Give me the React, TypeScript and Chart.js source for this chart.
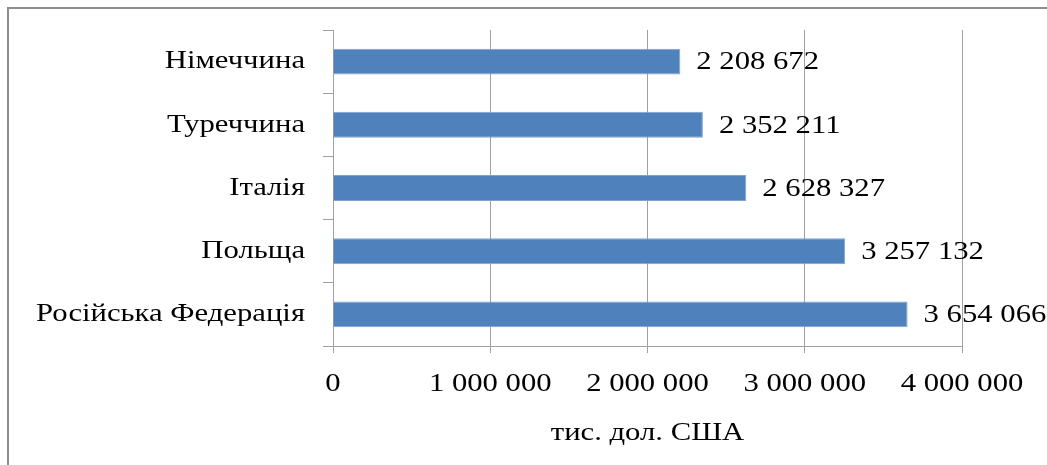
import React, { useEffect, useRef } from "react";
import { Chart, registerables } from "chart.js";

Chart.register(...registerables);

const categories = ["Німеччина", "Туреччина", "Італія", "Польща", "Російська Федерація"];
const values = [2208672, 2352211, 2628327, 3257132, 3654066];
const xTicks = [0, 1000000, 2000000, 3000000, 4000000];
const axisTitle = "тис. дол. США";

const FONT = "'Liberation Serif', 'Times New Roman', serif";
const TEXT_STRETCH = 1.18;
const fmt = (v: number) => String(v).replace(/\B(?=(\d{3})+(?!\d))/g, " ");

const dataLabels = {
  id: "dataLabels",
  afterDatasetsDraw(chart: any) {
    const ctx = chart.ctx;
    const meta = chart.getDatasetMeta(0);
    ctx.save();
    ctx.font = `26px ${FONT}`;
    ctx.fillStyle = "#000";
    ctx.textAlign = "left";
    ctx.textBaseline = "middle";
    meta.data.forEach((bar: any, i: number) => {
      ctx.fillText(fmt(values[i]), bar.x + 16, bar.y + 1);
    });
    ctx.restore();
  },
};

export default function App() {
  const ref = useRef<HTMLCanvasElement>(null);
  useEffect(() => {
    if (!ref.current) return;
    const c2d: any = ref.current.getContext("2d");
    const origFill = c2d.fillText;
    c2d.fillText = function (text: string, x: number, y: number, maxWidth?: number) {
      this.save();
      this.translate(x, y);
      this.scale(TEXT_STRETCH, 1);
      if (maxWidth === undefined) origFill.call(this, text, 0, 0);
      else origFill.call(this, text, 0, 0, maxWidth / TEXT_STRETCH);
      this.restore();
    };
    const chart = new Chart(ref.current, {
      type: "bar",
      data: {
        labels: categories,
        datasets: [
          {
            data: values,
            backgroundColor: "#4F81BD",
            borderColor: "#7fa3d1",
            borderWidth: 1,
            barPercentage: 0.41,
            categoryPercentage: 1,
          },
        ],
      },
      plugins: [dataLabels],
      options: {
        indexAxis: "y",
        animation: false,
        responsive: false,
        devicePixelRatio: 1,
        layout: { padding: { left: 0, top: 30, right: 85, bottom: 0 } },
        plugins: { legend: { display: false }, tooltip: { enabled: false } },
        scales: {
          x: {
            min: 0,
            max: 4000000,
            afterBuildTicks: (s: any) => {
              s.ticks = xTicks.map((v) => ({ value: v }));
            },
            afterFit: (s: any) => {
              s.height = 119;
            },
            grid: { color: "#a0a0a0", lineWidth: 1, tickLength: 7, drawTicks: true },
            border: { color: "#a0a0a0" },
            ticks: {
              color: "#000",
              font: { family: FONT, size: 26 },
              padding: 16,
              maxRotation: 0,
              autoSkip: false,
              callback: (v: any) => fmt(Number(v)),
            },
            title: {
              display: true,
              text: axisTitle,
              color: "#000",
              font: { family: FONT, size: 26 },
              padding: { top: 0, bottom: 16 },
            },
          },
          y: {
            afterFit: (s: any) => {
              s.width = 333;
              s.paddingTop = 0;
              s.paddingBottom = 0;
            },
            grid: { drawOnChartArea: false, color: "#a0a0a0", tickLength: 10 },
            border: { color: "#a0a0a0" },
            ticks: {
              color: "#000",
              font: { family: FONT, size: 26 },
              padding: 18,
            },
          },
        },
      },
    });
    return () => {
      chart.destroy();
      c2d.fillText = origFill;
    };
  }, []);
  return (
    <div style={{ position: "fixed", left: 0, top: 0, width: 1047, height: 465, background: "#fff" }}>
      <div
        style={{
          position: "absolute",
          left: 7,
          top: 7,
          width: 1047,
          height: 465,
          borderLeft: "2px solid #8e8e8e",
          borderTop: "2px solid #8e8e8e",
          boxSizing: "border-box",
        }}
      />
      <canvas ref={ref} width={1047} height={465} style={{ position: "absolute", left: 0, top: 0 }} />
    </div>
  );
}
